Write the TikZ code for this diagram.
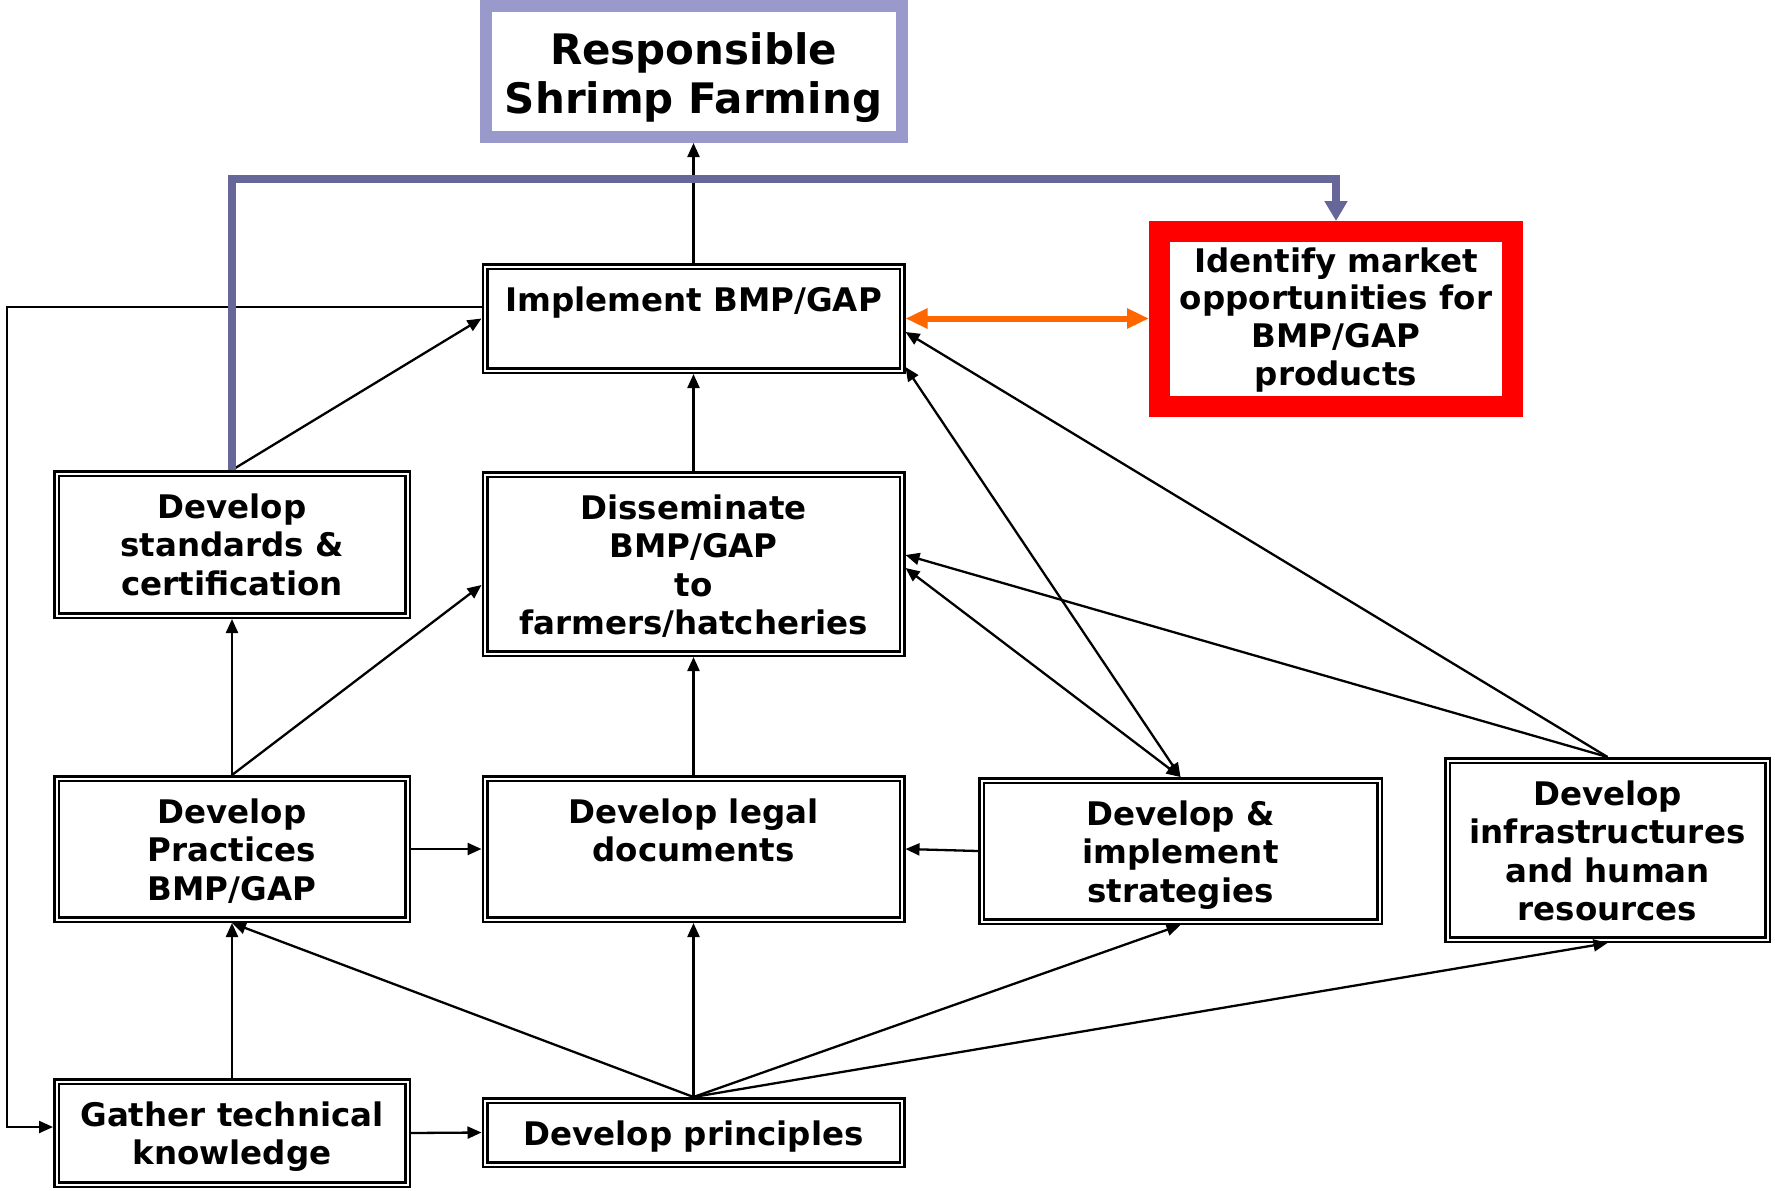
\documentclass[tikz,border=0pt]{standalone}
\usepackage{fontspec}
\setmainfont{DejaVu Sans}
\usetikzlibrary{arrows.meta}
\definecolor{frameblue}{HTML}{9999CC}
\definecolor{linkpurple}{HTML}{666699}
\definecolor{linkorange}{HTML}{FF6600}
\definecolor{alertred}{HTML}{FF0000}
% box content: width, height, first-baseline offset from top, text
\newcommand\boxtext[4]{\parbox[c][#2pt][t]{#1pt}{\centering\rule{0pt}{#3pt}#4}}

\begin{document}
\begin{tikzpicture}[x=1pt,y=-1pt,
  every node/.style={inner sep=0pt, font=\bfseries\fontsize{32.5pt}{38.3pt}\selectfont},
  stagebox/.style={draw, double, line width=2.5pt, double distance=2pt, outer sep=3.5pt},
  goalbox/.style={draw=frameblue, line width=12pt, outer sep=6pt},
  marketbox/.style={draw=alertred, line width=21pt, outer sep=10.5pt},
  link/.style={line width=2.3pt, -{Triangle[length=14pt,width=12pt]}},
  twoway/.style={line width=2.3pt, {Triangle[length=14pt,width=12pt]}-{Triangle[length=14pt,width=12pt]}},
  orangelink/.style={draw=linkorange, line width=6pt,
    {Triangle[length=22pt,width=19pt]}-{Triangle[length=22pt,width=19pt]}},
  purplelink/.style={draw=linkpurple, line width=8pt, -{Triangle[length=20pt,width=22pt]}},
]
\fill[white] (0,0) rectangle (1775,1191);
\useasboundingbox (0,0) rectangle (1775,1191);

% boxes
\node[goalbox, font=\bfseries\fontsize{42pt}{49pt}\selectfont] (resp) at (693.5,71.5)
  {\boxtext{416}{131}{58}{Responsible\\Shrimp Farming}};
\node[stagebox] (impl) at (693.5,318.5) {\boxtext{417}{104}{45}{Implement BMP/GAP}};
\node[marketbox, font=\bfseries\fontsize{32.5pt}{37.7pt}\selectfont] (iden) at (1336,319)
  {\boxtext{353}{175}{40.5}{Identify market\\opportunities for\\BMP/GAP\\products}};
\node[stagebox] (stand) at (232,544.5) {\boxtext{351}{142}{45}{Develop\\standards \&\\certification}};
\node[stagebox] (diss) at (693.5,564) {\boxtext{417}{179}{45}{Disseminate\\BMP/GAP\\to\\farmers/hatcheries}};
\node[stagebox] (prac) at (232,849) {\boxtext{351}{141}{45}{Develop\\Practices\\BMP/GAP}};
\node[stagebox] (legal) at (693.5,849) {\boxtext{417}{141}{45}{Develop legal\\documents}};
\node[stagebox] (strat) at (1180.5,851) {\boxtext{398}{141}{45}{Develop \&\\implement\\strategies}};
\node[stagebox] (infra) at (1607.5,850) {\boxtext{320}{179}{45}{Develop\\infrastructures\\and human\\resources}};
\node[stagebox] (gath) at (232,1133) {\boxtext{351}{103}{45}{Gather technical\\knowledge}};
\node[stagebox] (princ) at (693.5,1132.5) {\boxtext{417}{64}{45}{Develop principles}};

% routing points
\coordinate (fb) at (7,1127);
\coordinate (pbar) at (0,179);

% feedback from implementation back to knowledge gathering
\draw[link] ([yshift=11.5pt]impl.west) -| (fb) -- ([yshift=6pt]gath.west);

% vertical flow
\draw[link] (impl.north) -- (resp.south);
\draw[link] (diss.north) -- (impl.south);
\draw[link] (legal.north) -- (diss.south);
\draw[link] (prac.north) -- (stand.south);
\draw[link] (gath.north) -- (prac.south);

% diagonal and horizontal links
\draw[link] (stand.north) -- (impl.west);
\draw[link] (prac.north) -- ([yshift=-21pt]diss.west);
\draw[link] (prac.east) -- (legal.west);
\draw[link] (strat.west) -- (legal.east);
\draw[link] (gath.east) -- (princ.west);
\draw[twoway] ([yshift=7pt]impl.south east) -- (strat.north);
\draw[twoway] ([yshift=-4pt]diss.east) -- (strat.north);
\draw[link] (infra.north) -- ([yshift=-13.5pt]impl.east);
\draw[link] (infra.north) -- ([yshift=9pt]diss.east);
\draw[link] (princ.north) -- (prac.south);
\draw[link] (princ.north) -- (legal.south);
\draw[link] (princ.north) -- (strat.south);
\draw[link] (princ.north) -- (infra.south);

% market links
\draw[orangelink] (impl.east) -- (impl.east -| iden.west);
\draw[purplelink] (stand.north) |- (pbar -| iden.north) -- (iden.north);
\end{tikzpicture}
\end{document}
